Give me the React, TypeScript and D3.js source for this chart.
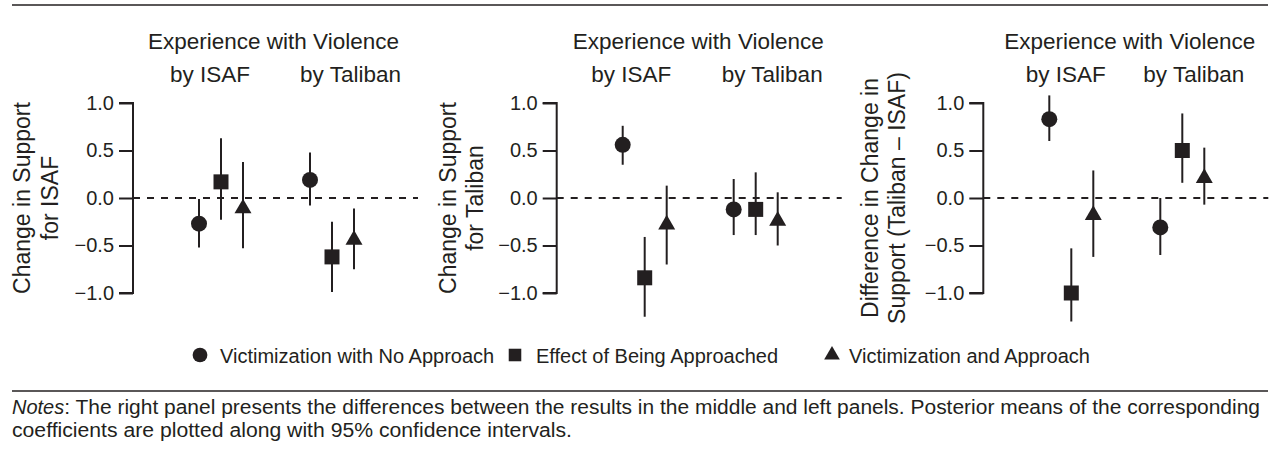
import React, { useEffect, useRef } from 'react';
import * as d3 from 'd3';

// panels and labels
const panelKeys = ['isaf', 'taliban', 'diff'];
const yTitles = [
  ['Change in Support', 'for ISAF'],
  ['Change in Support', 'for Taliban'],
  ['Difference in Change in', 'Support (Taliban \u2013 ISAF)'],
];
const headerText = 'Experience with Violence';
const groups = ['by ISAF', 'by Taliban'];
const seriesNames = ['Victimization with No Approach', 'Effect of Being Approached', 'Victimization and Approach'];
const yTicks = [1.0, 0.5, 0.0, -0.5, -1.0];

// posterior means and 95% intervals, [group][series]
const isafMean = [[-0.27, 0.17, -0.11], [0.19, -0.62, -0.44]];
const isafLow = [[-0.52, -0.23, -0.53], [-0.08, -0.99, -0.75]];
const isafHigh = [[-0.01, 0.63, 0.38], [0.48, -0.25, -0.11]];

const talibanMean = [[0.56, -0.84, -0.28], [-0.12, -0.12, -0.24]];
const talibanLow = [[0.35, -1.25, -0.70], [-0.39, -0.39, -0.50]];
const talibanHigh = [[0.76, -0.41, 0.13], [0.20, 0.27, 0.06]];

const diffMean = [[0.83, -1.00, -0.18], [-0.31, 0.50, 0.21]];
const diffLow = [[0.60, -1.30, -0.62], [-0.60, 0.16, -0.07]];
const diffHigh = [[1.08, -0.53, 0.29], [0.00, 0.89, 0.53]];

const noteLabel = 'Notes';
const noteLine1 = ': The right panel presents the differences between the results in the middle and left panels. Posterior means of the corresponding';
const noteLine2 = 'coefficients are plotted along with 95% confidence intervals.';

const FONT = '"Liberation Sans", Arial, Helvetica, sans-serif';
const INK = '#231f20';

function App() {
  const svgRef = useRef(null);

  useEffect(() => {
    const svg = d3.select(svgRef.current);
    svg.selectAll('*').remove();

    const means = [isafMean, talibanMean, diffMean];
    const lows = [isafLow, talibanLow, diffLow];
    const highs = [isafHigh, talibanHigh, diffHigh];

    const y = d3.scaleLinear().domain([-1, 1]).range([293, 103]);

    // per-panel layout (axis position and label offsets from it)
    const axisX = [133, 556.7, 983.3];
    const headerDx = [140.5, 141.6, 146.5];
    const byDx = [[77, 217.5], [74.5, 215.5], [82.5, 210.5]];
    const titleDx = [[-111, -83], [-108.7, -81.7], [-113.3, -86.6]];

    const symbolTypes = [d3.symbolCircle, d3.symbolSquare, d3.symbolTriangle];
    const symbolSizes = [201, 225, 125];
    const sym = (i, k = 1) => d3.symbol().type(symbolTypes[i]).size(symbolSizes[i] * k)();

    // top rule
    svg.append('line')
      .attr('x1', 12).attr('x2', 1268).attr('y1', 5).attr('y2', 5)
      .attr('stroke', INK).attr('stroke-width', 1.5);

    panelKeys.forEach((key, p) => {
      const ax = axisX[p];
      const g = svg.append('g').attr('class', 'panel-' + key);

      const xGroup = d3.scalePoint().domain(groups).range([ax + 88, ax + 199]);
      const xSeries = d3.scalePoint().domain(seriesNames).range([-22, 22]);

      // header
      g.append('text')
        .attr('x', ax + headerDx[p]).attr('y', 49)
        .attr('text-anchor', 'middle')
        .style('font-size', '22.5px')
        .text(headerText);
      groups.forEach((gr, i) => {
        g.append('text')
          .attr('x', ax + byDx[p][i]).attr('y', 82)
          .attr('text-anchor', 'middle')
          .style('font-size', '22.5px')
          .text(gr);
      });

      // y axis
      const axis = d3.axisLeft(y).tickValues(yTicks).tickSize(14).tickPadding(5);
      const axG = g.append('g').attr('transform', `translate(${ax},0)`).call(axis);
      axG.select('.domain').attr('d', `M-14,${y(1)}H0V${y(-1)}H-14`).attr('stroke', INK).attr('stroke-width', 2);
      axG.selectAll('.tick line').attr('stroke', INK).attr('stroke-width', 2);
      axG.selectAll('.tick text')
        .attr('fill', INK)
        .style('font-family', FONT)
        .style('font-size', '20px')
        .text(d => d3.format('.1f')(d).replace('-', '\u2212'));

      // y title
      yTitles[p].forEach((t, i) => {
        g.append('text')
          .attr('transform', `translate(${ax + titleDx[p][i]},198) rotate(-90)`)
          .attr('text-anchor', 'middle')
          .attr('dy', '0.36em')
          .style('font-size', '23px')
          .text(t);
      });

      // zero line
      g.append('line')
        .attr('x1', ax).attr('x2', ax + 285)
        .attr('y1', y(0)).attr('y2', y(0))
        .attr('stroke', INK).attr('stroke-width', 2)
        .attr('stroke-dasharray', '7,7');

      // estimates with intervals
      groups.forEach((gr, gi) => {
        seriesNames.forEach((s, si) => {
          const cx = xGroup(gr) + xSeries(s);
          g.append('line')
            .attr('x1', cx).attr('x2', cx)
            .attr('y1', y(lows[p][gi][si])).attr('y2', y(highs[p][gi][si]))
            .attr('stroke', INK).attr('stroke-width', 2);
          g.append('path')
            .attr('d', sym(si))
            .attr('transform', `translate(${cx},${y(means[p][gi][si])})`)
            .attr('fill', INK);
        });
      });
    });

    // legend
    const legendMarkX = [200, 515, 832];
    const legendTextX = [220, 536, 849];
    const legendY = 355;
    seriesNames.forEach((s, i) => {
      svg.append('path')
        .attr('d', sym(i, i === 1 ? 0.7 : 0.85))
        .attr('transform', `translate(${legendMarkX[i]},${legendY})`)
        .attr('fill', INK);
      svg.append('text')
        .attr('x', legendTextX[i]).attr('y', legendY + 7.5)
        .style('font-size', '20px')
        .text(s);
    });

    // notes
    svg.append('line')
      .attr('x1', 12).attr('x2', 1268).attr('y1', 391).attr('y2', 391)
      .attr('stroke', INK).attr('stroke-width', 1.5);
    const noteTag = svg.append('text')
      .attr('x', 12).attr('y', 414)
      .style('font-size', '20px').style('font-style', 'italic')
      .style('font-family', FONT)
      .text(noteLabel);
    const tagW = noteTag.node().getComputedTextLength();
    svg.append('text')
      .attr('x', 12 + tagW).attr('y', 414)
      .attr('textLength', 1260 - 12 - tagW).attr('lengthAdjust', 'spacingAndGlyphs')
      .style('font-size', '20px')
      .text(noteLine1);
    svg.append('text')
      .attr('x', 12).attr('y', 436.5)
      .attr('textLength', 560).attr('lengthAdjust', 'spacingAndGlyphs')
      .style('font-size', '20px')
      .text(noteLine2);

    svg.selectAll('text').attr('fill', INK).style('font-family', FONT);
  }, []);

  return (
    <div style={{ position: 'absolute', left: 0, top: 0, width: 1280, height: 456, background: '#fff' }}>
      <svg ref={svgRef} width={1280} height={456}></svg>
    </div>
  );
}

export default App;
